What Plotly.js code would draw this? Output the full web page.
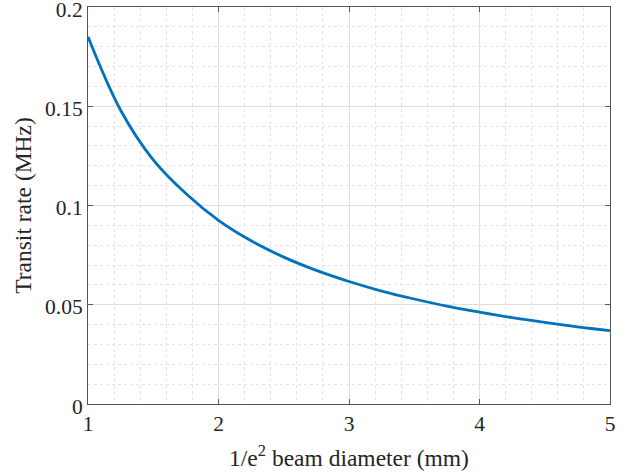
<!DOCTYPE html>
<html><head><meta charset="utf-8">
<script src="https://cdn.plot.ly/plotly-3.0.1.min.js"></script>
<style>html,body{margin:0;padding:0;background:#fff}#c{width:633px;height:476px}</style>
</head><body><div id="c"></div>
<script>
const beamDiameter = [1, 1.25, 1.5, 1.75, 2, 2.25, 2.5, 2.75, 3, 3.25, 3.5, 3.75, 4, 4.25, 4.5, 4.75, 5];
const transitRate = [0.185, 0.148, 0.123, 0.106, 0.0925, 0.0822, 0.074, 0.0673, 0.0617, 0.0569, 0.0529, 0.0493, 0.0463, 0.0435, 0.0411, 0.0389, 0.037];
const xTicks = [1, 2, 3, 4, 5];
const yTicks = [0, 0.05, 0.1, 0.15, 0.2];
const yTickText = ['0', '0.05', '0.1', '0.15', '0.2'];

const fam = 'Liberation Serif';
const tickFont = {family: fam, size: 21.5, color: '#262626'};
const titleFont = {family: fam, size: 23.5, color: '#262626'};
const axBase = {
  showline: true, linecolor: '#555', linewidth: 1, mirror: 'ticks',
  ticks: 'inside', ticklen: 5, tickcolor: '#555', tickwidth: 1,
  showgrid: true, gridcolor: '#dedede', gridwidth: 1,
  zeroline: false, tickfont: tickFont, ticklabeloverflow: 'allow',
  minor: {showgrid: true, gridcolor: '#e4e4e4', griddash: 'dot', ticks: ''}
};
Plotly.newPlot('c', [{
  x: beamDiameter, y: transitRate, type: 'scatter', mode: 'lines',
  line: {color: '#0072BD', width: 2.8, shape: 'spline'}
}], {
  width: 633, height: 476,
  margin: {l: 88, r: 23, t: 7, b: 72},
  paper_bgcolor: '#fff', plot_bgcolor: '#fff',
  showlegend: false, font: tickFont,
  xaxis: Object.assign({}, axBase, {
    range: [1, 5], tickvals: xTicks, ticktext: xTicks.map(String),
    minor: Object.assign({}, axBase.minor, {dtick: 0.2, tick0: 1}),
    title: {text: '1/e<sup>2</sup> beam diameter (mm)', font: titleFont, standoff: 14}
  }),
  yaxis: Object.assign({}, axBase, {
    range: [0, 0.2], tickvals: yTicks, ticktext: yTickText, ticklabelshift: 2,
    minor: Object.assign({}, axBase.minor, {dtick: 0.01, tick0: 0}),
    title: {text: 'Transit rate (MHz)', font: titleFont, standoff: 6}
  })
}, {displayModeBar: false, staticPlot: true});
</script></body></html>
